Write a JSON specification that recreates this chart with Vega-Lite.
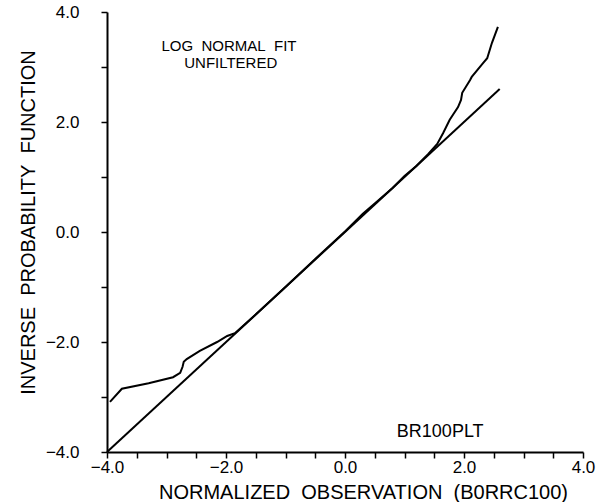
{
  "$schema": "https://vega.github.io/schema/vega-lite/v6.json",
  "width": 476,
  "height": 440,
  "autosize": {"type": "none"},
  "padding": {"left": 107, "top": 12, "right": 19, "bottom": 50},
  "background": "white",
  "config": {
    "view": {"stroke": null},
    "font": "Liberation Sans",
    "axis": {
      "domainColor": "black", "domainWidth": 2, "tickColor": "black", "tickWidth": 1.5,
      "tickSize": 6, "grid": false, "labelColor": "black", "titleColor": "black",
      "labelFont": "Liberation Sans", "titleFont": "Liberation Sans",
      "labelFontSize": 17, "titleFontSize": 20, "titleFontWeight": "normal"
    }
  },
  "datasets": {
    "curve": [
      {"x": -3.95, "y": -3.09}, {"x": -3.75, "y": -2.85}, {"x": -3.3, "y": -2.75},
      {"x": -2.89, "y": -2.64}, {"x": -2.77, "y": -2.56}, {"x": -2.73, "y": -2.45},
      {"x": -2.71, "y": -2.36}, {"x": -2.66, "y": -2.31}, {"x": -2.44, "y": -2.16},
      {"x": -2.15, "y": -2.0}, {"x": -1.98, "y": -1.89}, {"x": -1.85, "y": -1.84},
      {"x": -1.5, "y": -1.5}, {"x": -1.0, "y": -1.0}, {"x": -0.5, "y": -0.49},
      {"x": 0.0, "y": 0.01}, {"x": 0.3, "y": 0.33}, {"x": 0.5, "y": 0.52},
      {"x": 0.8, "y": 0.8}, {"x": 1.0, "y": 1.02}, {"x": 1.2, "y": 1.2},
      {"x": 1.4, "y": 1.42}, {"x": 1.55, "y": 1.6}, {"x": 1.65, "y": 1.8},
      {"x": 1.76, "y": 2.04}, {"x": 1.9, "y": 2.27}, {"x": 1.95, "y": 2.4},
      {"x": 1.97, "y": 2.53}, {"x": 2.1, "y": 2.76}, {"x": 2.13, "y": 2.82},
      {"x": 2.32, "y": 3.07}, {"x": 2.39, "y": 3.16}, {"x": 2.47, "y": 3.44},
      {"x": 2.57, "y": 3.73}
    ],
    "fit": [{"x": -4, "y": -4}, {"x": 2.6, "y": 2.6}],
    "ticks": [
      {"v": -4}, {"v": -3.8}, {"v": -3.6}, {"v": -3.4}, {"v": -3.2}, {"v": -3}, {"v": -2.8},
      {"v": -2.6}, {"v": -2.4}, {"v": -2.2}, {"v": -2}, {"v": -1.8}, {"v": -1.6}, {"v": -1.4},
      {"v": -1.2}, {"v": -1}, {"v": -0.8}, {"v": -0.6}, {"v": -0.4}, {"v": -0.2}, {"v": 0},
      {"v": 0.2}, {"v": 0.4}, {"v": 0.6}, {"v": 0.8}, {"v": 1}, {"v": 1.2}, {"v": 1.4},
      {"v": 1.6}, {"v": 1.8}, {"v": 2}, {"v": 2.2}, {"v": 2.4}, {"v": 2.6}, {"v": 2.8},
      {"v": 3}, {"v": 3.2}, {"v": 3.4}, {"v": 3.6}, {"v": 3.8}, {"v": 4}
    ],
    "notes": [
      {"x": -1.95, "y": 3.38, "text": "LOG\u00a0\u00a0NORMAL\u00a0\u00a0FIT"},
      {"x": -1.92, "y": 3.08, "text": "UNFILTERED"}
    ],
    "tag": [
      {"x": 1.6, "y": -3.64, "text": "BR100PLT"}
    ]
  },
  "encoding": {
    "x": {"field": "x", "type": "quantitative",
      "scale": {"domain": [-4, 4], "nice": false, "zero": false},
      "axis": {
        "labelExpr": "abs(datum.value/2 - round(datum.value/2)) < 0.001 ? format(datum.value, '.1f') : ''",
        "labelPadding": 1, "labelFlush": false, "labelOverlap": false,
        "title": "NORMALIZED\u00a0\u00a0OBSERVATION\u00a0\u00a0(B0RRC100)",
        "titleX": 256, "titleY": 46, "titleAlign": "center", "titleBaseline": "alphabetic"
      }
    },
    "y": {"field": "y", "type": "quantitative",
      "scale": {"domain": [-4, 4], "nice": false, "zero": false},
      "axis": {
        "labelExpr": "abs(datum.value/2 - round(datum.value/2)) < 0.001 ? format(datum.value, '.1f') : ''",
        "labelPadding": 22, "labelFlush": false, "labelOverlap": false,
        "title": "INVERSE\u00a0\u00a0PROBABILITY\u00a0\u00a0FUNCTION",
        "titleX": -79, "titleY": 210, "titleAngle": 270, "titleAlign": "center", "titleBaseline": "middle"
      }
    }
  },
  "layer": [
    {
      "data": {"name": "ticks"},
      "mark": {"type": "tick", "orient": "vertical", "color": "black", "size": 6, "thickness": 1.5, "yOffset": 3, "opacity": 1},
      "encoding": {
        "x": {"field": "v", "type": "quantitative"},
        "y": {"datum": -4}
      }
    },
    {
      "data": {"name": "ticks"},
      "mark": {"type": "tick", "orient": "horizontal", "color": "black", "size": 6, "thickness": 1.5, "xOffset": -3, "opacity": 1},
      "encoding": {
        "x": {"datum": -4},
        "y": {"field": "v", "type": "quantitative"}
      }
    },
    {
      "data": {"name": "fit"},
      "mark": {"type": "line", "color": "black", "strokeWidth": 2}
    },
    {
      "data": {"name": "curve"},
      "mark": {"type": "line", "color": "black", "strokeWidth": 2}
    },
    {
      "data": {"name": "notes"},
      "mark": {"type": "text", "color": "black", "fontSize": 15, "font": "Liberation Sans", "align": "center", "baseline": "middle"},
      "encoding": {"text": {"field": "text"}}
    },
    {
      "data": {"name": "tag"},
      "mark": {"type": "text", "color": "black", "fontSize": 18, "font": "Liberation Sans", "align": "center", "baseline": "middle"},
      "encoding": {"text": {"field": "text"}}
    }
  ]
}
